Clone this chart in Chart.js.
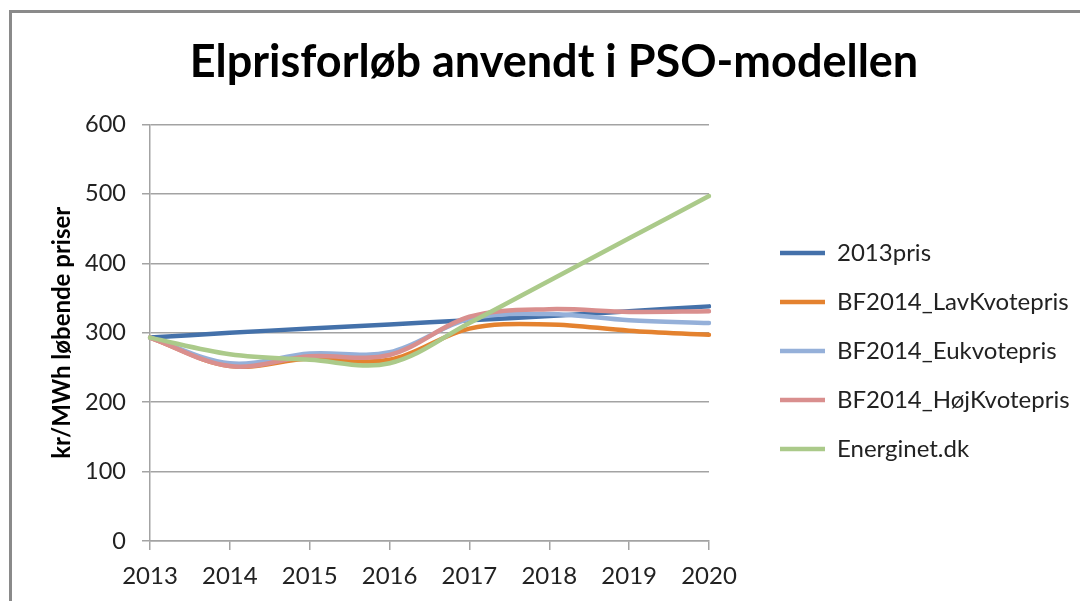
<!DOCTYPE html>
<html><head><meta charset="utf-8">
<script src="https://cdn.jsdelivr.net/npm/chart.js@4.4.1/dist/chart.umd.min.js"></script>
<style>html,body{margin:0;padding:0;background:#fff;}#wrap{position:relative;width:1080px;height:601px;}</style>
</head><body><div id="wrap"><canvas id="c" width="1080" height="601"></canvas></div>
<script>
const years = ['2013', '2014', '2015', '2016', '2017', '2018', '2019', '2020'];
const seriesNames = ['2013pris', 'BF2014_LavKvotepris', 'BF2014_Eukvotepris', 'BF2014_HøjKvotepris', 'Energinet.dk'];
const pris2013 = [293, 300, 306, 312, 318, 324, 331, 338];
const lavKvote = [293, 252, 263, 261, 306, 312, 303, 297];
const euKvote = [293, 256, 270, 272, 320, 327, 318, 314];
const hojKvote = [293, 252, 266, 268, 323, 334, 330, 331];
const energinet = [293, 269, 261, 256, 314, 375, 436, 497];
const yTicks = [0, 100, 200, 300, 400, 500, 600];
const chartTitle = 'Elprisforløb anvendt i PSO-modellen';
const yTitle = 'kr/MWh løbende priser';

const colors = ['#4471aa', '#e4822f', '#95b0d9', '#d98f8e', '#abca8a'];
const values = [pris2013, lavKvote, euKvote, hojKvote, energinet];
const drawOrder = [4, 3, 2, 1, 0];

const FONT = 'Lato';
const LEG_FONT = 24, LEG_PAD = 25, LEG_BOX = 45;
const PLOT_LEFT = 150, PLOT_RIGHT = 709;
const mctx = document.createElement('canvas').getContext('2d');
mctx.font = LEG_FONT + 'px ' + FONT;
const maxW = Math.max(...seriesNames.map(n => mctx.measureText(n).width));
const legendW = LEG_PAD + LEG_BOX + LEG_FONT / 2 + maxW + 10;
const padRight = 1080 - PLOT_RIGHT - legendW;

const framePlugin = {
  id: 'frame',
  beforeDraw(chart) {
    const ctx = chart.ctx;
    ctx.save();
    ctx.strokeStyle = '#8a8a8a';
    ctx.lineWidth = 3;
    ctx.beginPath();
    ctx.moveTo(10.5, 700); ctx.lineTo(10.5, 11.5); ctx.lineTo(1200, 11.5);
    ctx.stroke();
    ctx.restore();
  },
  afterLayout(chart) {
    const t = chart.titleBlock;
    if (t) { t.left = 28; t.right = 1080; t.width = 1052; }
    const lg = chart.legend;
    if (lg) { lg.left = 755; lg.right = 1200; lg.width = 445; lg.top = 216; lg.bottom = 601; lg.height = 385; }
  }
};

const gridColor = '#a3a3a3';
new Chart(document.getElementById('c'), {
  type: 'line',
  data: {
    labels: years,
    datasets: seriesNames.map((n, i) => ({
      label: n,
      data: values[i],
      borderColor: colors[i],
      backgroundColor: colors[i],
      borderWidth: 4.5,
      borderCapStyle: 'round',
      borderJoinStyle: 'round',
      pointRadius: 0,
      pointHoverRadius: 0,
      tension: 0.35,
      fill: false,
      order: drawOrder[i]
    }))
  },
  options: {
    responsive: false,
    animation: false,
    devicePixelRatio: 1,
    layout: { padding: { left: 0, top: 0, right: padRight, bottom: 0 } },
    plugins: {
      title: {
        display: true, text: chartTitle, color: '#000',
        font: { family: FONT, size: 45, weight: 'bold' },
        padding: { top: 35.4, bottom: 35.1 }
      },
      legend: {
        display: true, position: 'right', align: 'start', maxWidth: 600,
        labels: {
          usePointStyle: true, pointStyle: 'line', pointStyleWidth: LEG_BOX,
          padding: LEG_PAD, color: '#222',
          font: { family: FONT, size: LEG_FONT },
          sort: (a, b) => a.datasetIndex - b.datasetIndex
        }
      },
      tooltip: { enabled: false }
    },
    scales: {
      x: {
        type: 'category', offset: false,
        afterFit: s => { s.height = 60; },
        grid: { display: true, drawOnChartArea: false, drawTicks: true, tickLength: 9, color: gridColor, lineWidth: 1.5 },
        border: { display: true, color: gridColor, width: 1.5 },
        ticks: { color: '#222', font: { family: FONT, size: 24 }, padding: 12, maxRotation: 0, autoSkip: false }
      },
      y: {
        min: 0, max: 600,
        afterFit: s => { s.width = PLOT_LEFT; },
        afterBuildTicks: s => { s.ticks = yTicks.map(v => ({ value: v })); },
        grid: { color: gridColor, lineWidth: 1.5, tickLength: 8 },
        border: { display: true, color: gridColor, width: 1.5 },
        ticks: { color: '#222', font: { family: FONT, size: 23.5 }, padding: 16 },
        title: { display: true, text: yTitle, color: '#000', font: { family: FONT, size: 24, weight: 'bold' }, padding: { top: 47.6, bottom: 0 } }
      }
    }
  },
  plugins: [framePlugin]
});
</script></body></html>
